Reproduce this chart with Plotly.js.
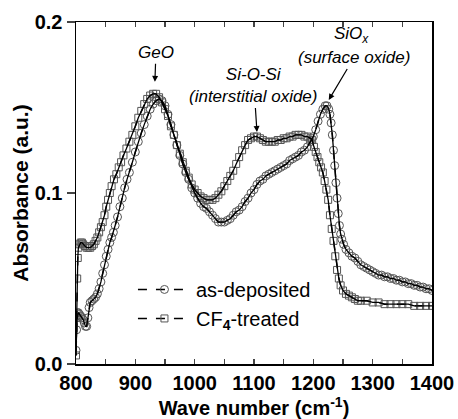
<!DOCTYPE html>
<html>
<head>
<meta charset="utf-8">
<script src="https://cdn.plot.ly/plotly-3.0.1.min.js"></script>
<style>html,body{margin:0;padding:0;background:#fff;}#chart{width:458px;height:419px;}</style>
</head>
<body>
<div id="chart"></div>
<script>
// as-deposited (circles)
const xDep = [800,801,802,804,806,808,810,812,814,816,818,820,822,824,827,830,833,836,839,842,845,848,851,854,857,860,863,866,870,874,878,882,886,890,895,900,905,910,915,920,925,930,935,940,945,950,955,960,965,970,975,980,985,990,995,1000,1005,1010,1015,1020,1025,1030,1035,1040,1045,1050,1055,1060,1065,1070,1075,1080,1085,1090,1095,1100,1105,1110,1115,1120,1125,1130,1135,1140,1145,1150,1155,1160,1165,1170,1175,1180,1185,1190,1195,1200,1204,1208,1212,1216,1220,1223,1226,1228,1230,1232,1234,1236,1238,1240,1242,1244,1246,1248,1251,1255,1260,1265,1270,1275,1280,1285,1290,1295,1300,1305,1310,1315,1320,1325,1330,1335,1340,1345,1350,1355,1360,1365,1370,1375,1380,1385,1390,1395,1400];
const yDep = [0.008,0.020,0.027,0.030,0.029,0.028,0.027,0.026,0.024,0.022,0.022,0.027,0.033,0.036,0.037,0.038,0.039,0.041,0.044,0.048,0.053,0.058,0.063,0.067,0.071,0.074,0.077,0.081,0.086,0.092,0.097,0.103,0.108,0.112,0.118,0.124,0.130,0.135,0.140,0.145,0.149,0.152,0.154,0.155,0.154,0.151,0.146,0.140,0.134,0.128,0.122,0.117,0.112,0.108,0.103,0.100,0.097,0.094,0.092,0.091,0.089,0.087,0.085,0.083,0.083,0.083,0.084,0.085,0.087,0.089,0.090,0.092,0.095,0.097,0.100,0.102,0.105,0.107,0.108,0.110,0.111,0.112,0.113,0.114,0.115,0.116,0.117,0.119,0.120,0.121,0.122,0.124,0.125,0.127,0.130,0.133,0.137,0.142,0.146,0.149,0.151,0.151,0.149,0.146,0.141,0.134,0.125,0.116,0.106,0.097,0.088,0.081,0.076,0.073,0.070,0.067,0.065,0.063,0.062,0.060,0.058,0.057,0.056,0.055,0.054,0.053,0.052,0.052,0.051,0.051,0.050,0.050,0.049,0.049,0.048,0.048,0.047,0.047,0.046,0.046,0.045,0.045,0.044,0.044,0.043];

// CF4-treated (squares)
const xCF = [800,801,802,803,804,806,808,810,812,815,818,821,824,827,830,833,836,839,842,845,848,851,854,857,860,864,868,872,876,880,885,890,895,900,905,910,915,920,925,930,935,940,945,950,955,960,965,970,975,980,985,990,995,1000,1005,1010,1015,1020,1025,1030,1035,1040,1045,1050,1055,1060,1065,1070,1075,1080,1085,1090,1095,1100,1105,1110,1115,1120,1125,1130,1135,1140,1145,1150,1155,1160,1165,1170,1175,1180,1185,1190,1195,1198,1201,1204,1207,1210,1213,1216,1219,1222,1225,1228,1231,1234,1237,1240,1243,1246,1250,1255,1260,1265,1270,1275,1280,1290,1300,1310,1320,1330,1340,1350,1360,1370,1380,1390,1400];
const yCF = [0.005,0.030,0.050,0.062,0.068,0.070,0.071,0.071,0.070,0.069,0.068,0.068,0.068,0.069,0.070,0.072,0.074,0.077,0.080,0.083,0.087,0.092,0.096,0.100,0.104,0.108,0.111,0.115,0.118,0.122,0.126,0.130,0.134,0.139,0.144,0.148,0.152,0.155,0.157,0.158,0.158,0.156,0.153,0.149,0.145,0.139,0.134,0.128,0.123,0.118,0.113,0.109,0.105,0.102,0.100,0.098,0.097,0.096,0.096,0.096,0.097,0.099,0.101,0.104,0.107,0.110,0.113,0.117,0.121,0.125,0.128,0.131,0.132,0.133,0.133,0.132,0.131,0.130,0.130,0.130,0.130,0.131,0.131,0.132,0.132,0.133,0.133,0.134,0.134,0.134,0.133,0.133,0.132,0.131,0.127,0.124,0.121,0.118,0.115,0.112,0.107,0.102,0.096,0.087,0.079,0.072,0.063,0.055,0.050,0.046,0.043,0.041,0.040,0.039,0.038,0.037,0.037,0.037,0.036,0.036,0.035,0.035,0.035,0.035,0.035,0.034,0.034,0.034,0.034];

const seriesNames = ['as-deposited', 'CF<sub><b>4</b></sub>-treated'];
const xTicks = [800, 900, 1000, 1100, 1200, 1300, 1400];
const yTicks = [0.0, 0.1, 0.2];

const FONT = 'Liberation Sans, Arial, Helvetica, sans-serif';

const traces = [
  {x: xDep, y: yDep, name: seriesNames[0], mode: 'lines+markers',
   line: {color: '#000', width: 1.5, dash: 'dash'},
   marker: {symbol: 'circle-open', size: 8, color: '#555', line: {color: '#555', width: 1}}},
  {x: xCF, y: yCF, name: seriesNames[1], mode: 'lines+markers',
   line: {color: '#000', width: 1.5, dash: 'dash'},
   marker: {symbol: 'square-open', size: 7, color: '#555', line: {color: '#555', width: 1}}},
  {x: xDep, y: yDep, mode: 'lines', showlegend: false, hoverinfo: 'skip',
   line: {color: '#000', width: 1.3}},
  {x: xCF, y: yCF, mode: 'lines', showlegend: false, hoverinfo: 'skip',
   line: {color: '#000', width: 1.3}}
];

const annFont = {family: FONT, size: 17, color: '#000', style: 'italic'};
const arr = {showarrow: true, arrowhead: 2, arrowsize: 1, arrowwidth: 1.2, arrowcolor: '#000', xref: 'x', yref: 'y', font: annFont};

const layout = {
  width: 458, height: 419,
  margin: {l: 76, r: 26, t: 22, b: 55},
  paper_bgcolor: '#fff', plot_bgcolor: '#fff',
  font: {family: FONT, color: '#000'},
  showlegend: true,
  legend: {x: 0.16, y: 0.275, xanchor: 'left', yanchor: 'top', bgcolor: 'rgba(0,0,0,0)',
           font: {family: FONT, size: 20, color: '#000'}, itemwidth: 53, tracegroupgap: 0},
  xaxis: {range: [800, 1400], tickvals: xTicks, ticks: 'inside', ticklen: 5, tickwidth: 1.2,
          minor: {dtick: 50, tick0: 800, ticks: 'inside', ticklen: 5, tickwidth: 1.2},
          showline: true, linewidth: 1.5, linecolor: '#000', mirror: 'ticks', showgrid: false, zeroline: false,
          tickfont: {family: FONT, size: 20, weight: 'bold'},
          title: {text: 'Wave number (cm<sup>-1</sup>)', font: {family: FONT, size: 20, weight: 'bold'}, standoff: 9}},
  yaxis: {range: [0, 0.2], tickvals: yTicks, tickformat: '.1f', ticks: 'outside', ticklen: 8, tickwidth: 1.2,
          showline: true, linewidth: 1.5, linecolor: '#000', mirror: true, showgrid: false, zeroline: false,
          tickfont: {family: FONT, size: 20, weight: 'bold'},
          title: {text: 'Absorbance (a.u.)', font: {family: FONT, size: 21, weight: 'bold'}, standoff: 0}},
  yaxis2: {range: [0, 0.2], overlaying: 'y', side: 'right', anchor: 'x', tickvals: yTicks,
           ticks: 'inside', ticklen: 6, tickwidth: 1.2, showticklabels: false, showline: false,
           showgrid: false, zeroline: false},
  annotations: [
    Object.assign({x: 933, y: 0.165, ax: 1, ay: -29, text: 'GeO'}, arr),
    Object.assign({x: 1105, y: 0.1357, ax: -3, ay: -46, text: 'Si-O-Si<br>(interstitial oxide)'}, arr),
    {x: 1265, y: 0.1926, xref: 'x', yref: 'y', showarrow: false, text: 'SiO<sub>x</sub>', font: annFont},
    Object.assign({x: 1226, y: 0.1544, ax: 25, ay: -42, text: '(surface oxide)'}, arr)
  ]
};

Plotly.newPlot('chart', traces, layout, {displayModeBar: false, staticPlot: true});
</script>
</body>
</html>
